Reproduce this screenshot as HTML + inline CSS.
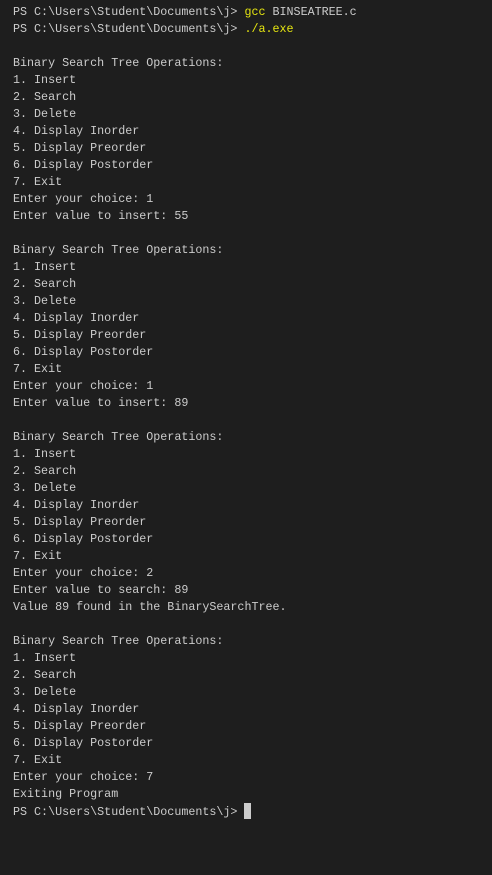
<!DOCTYPE html>
<html><head><style>
html,body{margin:0;padding:0;background:#1e1e1e;width:492px;height:875px;overflow:hidden}
pre{position:absolute;left:13px;top:4px;margin:0;font-family:"Liberation Mono",monospace;font-size:11.7px;line-height:17px;color:#cccccc}
.y{color:#e5e510}
.c{display:inline-block;width:7px;height:16px;background:#cccccc;vertical-align:-4px}
</style></head><body>
<pre>PS C:\Users\Student\Documents\j&gt; <span class="y">gcc</span> BINSEATREE.c
PS C:\Users\Student\Documents\j&gt; <span class="y">./a.exe</span>

Binary Search Tree Operations:
1. Insert
2. Search
3. Delete
4. Display Inorder
5. Display Preorder
6. Display Postorder
7. Exit
Enter your choice: 1
Enter value to insert: 55

Binary Search Tree Operations:
1. Insert
2. Search
3. Delete
4. Display Inorder
5. Display Preorder
6. Display Postorder
7. Exit
Enter your choice: 1
Enter value to insert: 89

Binary Search Tree Operations:
1. Insert
2. Search
3. Delete
4. Display Inorder
5. Display Preorder
6. Display Postorder
7. Exit
Enter your choice: 2
Enter value to search: 89
Value 89 found in the BinarySearchTree.

Binary Search Tree Operations:
1. Insert
2. Search
3. Delete
4. Display Inorder
5. Display Preorder
6. Display Postorder
7. Exit
Enter your choice: 7
Exiting Program
PS C:\Users\Student\Documents\j&gt; <span class="c"></span></pre>
</body></html>
